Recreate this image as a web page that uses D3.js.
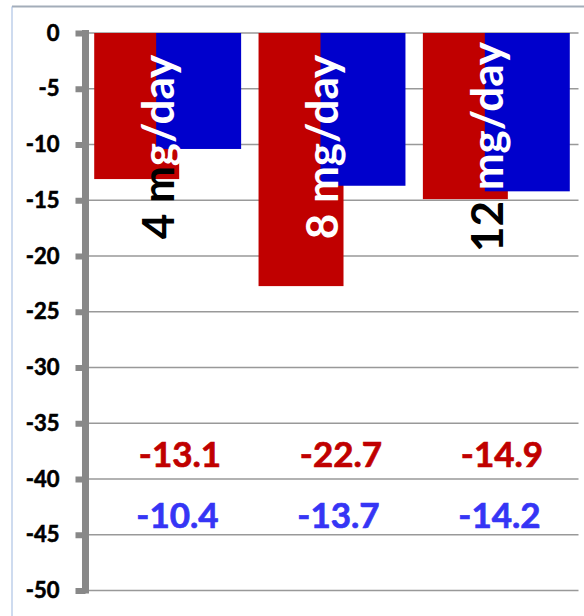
<!DOCTYPE html>
<html>
<head>
<meta charset="utf-8">
<script src="https://cdn.jsdelivr.net/npm/d3@7"></script>
<style>
  html, body { margin: 0; padding: 0; background: #fff; }
  svg { display: block; font-family: Lato, "Open Sans", sans-serif; }
</style>
</head>
<body>
<svg id="chart" width="584" height="616"></svg>
<script>
// Dose groups and their mean changes
const categories = ["4 mg/day", "8 mg/day", "12 mg/day"];
const redValues = [-13.1, -22.7, -14.9];
const blueValues = [-10.4, -13.7, -14.2];
// Rotated dose labels: the part shown dark, then the part shown white
const labelDark = ["4 m", "", "12 "];
const labelLight = ["g/day", "8 mg/day", "mg/day"];
const yTicks = [0, -5, -10, -15, -20, -25, -30, -35, -40, -45, -50];

const RED = "#c00000";
const BLUE = "#0000cc";
const BLUE_TEXT = "#3535f5";

const svg = d3.select("#chart");
const W = 584, H = 616;
const axisX = 85.5;
const plotRight = 578.5;
const yTop = 33, yBottom = 590.5;

const x = d3.scaleBand().domain(categories).range([axisX, plotRight]).padding(0);
const y = d3.scaleLinear().domain([0, -50]).range([yTop, yBottom]);
const bw = x.bandwidth();
const barW = bw * 0.517;
const gap = bw * 0.053;
const blueShift = bw * 0.377;

// outer frame
svg.append("line").attr("x1", 12).attr("x2", W).attr("y1", 6.5).attr("y2", 6.5)
  .attr("stroke", "#a3adb9").attr("stroke-width", 2);
svg.append("line").attr("x1", 12).attr("x2", 12).attr("y1", 6.5).attr("y2", H)
  .attr("stroke", "#9db7df").attr("stroke-width", 1);

// horizontal gridlines
svg.append("g").selectAll("line").data(yTicks).join("line")
  .attr("x1", axisX).attr("x2", plotRight)
  .attr("y1", d => y(d)).attr("y2", d => y(d))
  .attr("stroke", "#999").attr("stroke-width", 1.5);

// bars: red series first, blue series drawn over it
svg.append("g").selectAll("rect").data(categories).join("rect")
  .attr("x", d => x(d) + gap)
  .attr("y", y(0))
  .attr("width", barW)
  .attr("height", (d, i) => y(redValues[i]) - y(0))
  .attr("fill", RED);
svg.append("g").selectAll("rect").data(categories).join("rect")
  .attr("x", d => x(d) + gap + blueShift)
  .attr("y", y(0))
  .attr("width", barW)
  .attr("height", (d, i) => y(blueValues[i]) - y(0))
  .attr("fill", BLUE);

// y axis: thick gray spine with block ticks
const yAxis = d3.axisLeft(y).tickValues(yTicks).tickSize(0).tickPadding(26)
  .tickFormat(d => d === 0 ? "0" : "-" + Math.abs(d));
const gy = svg.append("g").attr("transform", `translate(${axisX},0)`).call(yAxis);
gy.select(".domain").remove();
gy.selectAll("text")
  .attr("fill", "#000")
  .attr("stroke", "#000").attr("stroke-width", 0.6)
  .style("font-family", "Lato, sans-serif")
  .style("font-weight", "700")
  .style("font-size", "22px");
gy.selectAll(".tick").append("rect")
  .attr("x", -10).attr("y", -3).attr("width", 10).attr("height", 6)
  .attr("fill", "#888");
svg.append("rect")
  .attr("x", axisX - 3.5).attr("y", yTop - 3)
  .attr("width", 7).attr("height", yBottom - yTop + 6)
  .attr("fill", "#888");

// rotated dose labels
const labelX = d => x(d) + gap + bw * 0.485;
const lbl = svg.append("g").selectAll("text").data(categories).join("text")
  .attr("transform", d => `translate(${labelX(d)},147) rotate(-90)`)
  .attr("text-anchor", "middle")
  .style("font-weight", "700")
  .style("font-size", "44px");
lbl.append("tspan").attr("fill", "#000").text((d, i) => labelDark[i]);
lbl.append("tspan").attr("fill", "#fff").text((d, i) => labelLight[i]);

// value annotations
const xv = d3.scalePoint().domain(categories).range([180, 502]);
svg.append("g").selectAll("text").data(categories).join("text")
  .attr("x", d => xv(d)).attr("y", 467)
  .attr("text-anchor", "middle")
  .attr("fill", RED).attr("stroke", RED).attr("stroke-width", 0.7)
  .style("font-weight", "700").style("font-size", "35px")
  .text((d, i) => redValues[i].toFixed(1));
svg.append("g").selectAll("text").data(categories).join("text")
  .attr("x", d => xv(d) - 2.5).attr("y", 528)
  .attr("text-anchor", "middle")
  .attr("fill", BLUE_TEXT).attr("stroke", BLUE_TEXT).attr("stroke-width", 0.7)
  .style("font-weight", "700").style("font-size", "35px")
  .text((d, i) => blueValues[i].toFixed(1));
</script>
</body>
</html>
